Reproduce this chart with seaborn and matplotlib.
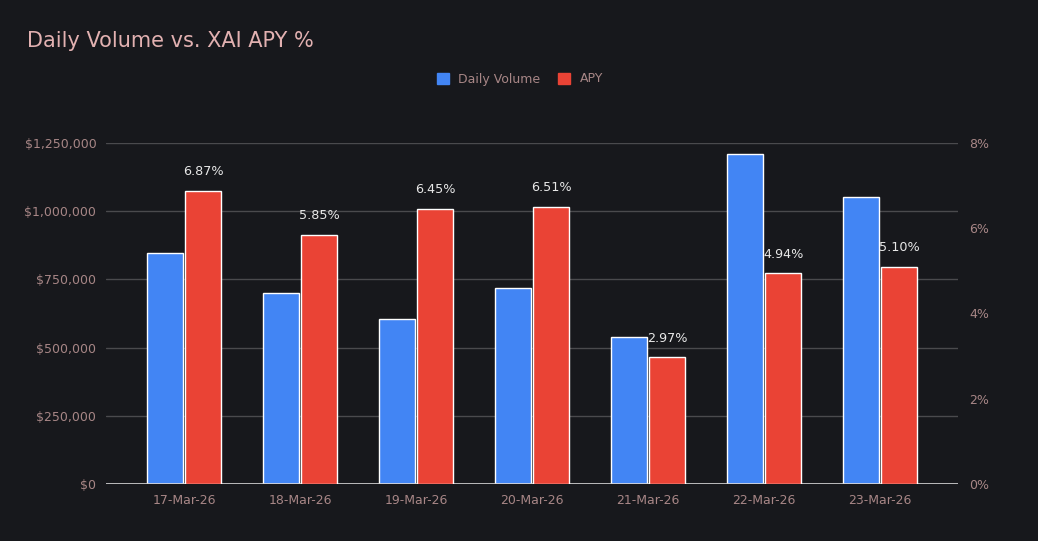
import matplotlib
matplotlib.use("Agg")
import matplotlib.pyplot as plt
import seaborn as sns
import pandas as pd
import numpy as np
from matplotlib.ticker import FuncFormatter
from matplotlib.patches import Patch

dates = ["17-Mar-26", "18-Mar-26", "19-Mar-26", "20-Mar-26", "21-Mar-26", "22-Mar-26", "23-Mar-26"]
daily_volume = [845000, 700000, 605000, 718000, 539000, 1210000, 1052000]
apy = [6.87, 5.85, 6.45, 6.51, 2.97, 4.94, 5.10]
series = ["Daily Volume", "APY"]

BG = "#17181c"
BLUE = "#4285f4"
RED = "#ea4335"
TICK = "#a78686"
GRID = "#4a4a4d"

sns.set_theme(style="dark")
plt.rcParams["font.family"] = ["DejaVu Sans"]

df_vol = pd.DataFrame({"date": dates * 2, "series": [series[0]] * 7 + [series[1]] * 7,
                       "value": daily_volume + [np.nan] * 7})
df_apy = pd.DataFrame({"date": dates * 2, "series": [series[0]] * 7 + [series[1]] * 7,
                       "value": [np.nan] * 7 + apy})

fig = plt.figure(figsize=(10.38, 5.41), dpi=100, facecolor=BG)
ax = fig.add_axes([106 / 1038, 57 / 541, 852 / 1038, 341 / 541])
ax.set_facecolor(BG)
ax2 = ax.twinx()

pal = {series[0]: BLUE, series[1]: RED}
for a, d in ((ax, df_vol), (ax2, df_apy)):
    sns.barplot(data=d, x="date", y="value", hue="series", hue_order=series, order=dates,
                palette=pal, saturation=1, dodge=True, width=0.66, gap=0.06, ax=a,
                edgecolor="white", linewidth=1, legend=False, errorbar=None)

ax.set_xlim(-0.672, 6.672)
ax.set_ylim(0, 1250000)
ax2.set_ylim(0, 8)
ax.set_yticks([0, 250000, 500000, 750000, 1000000, 1250000])
ax.yaxis.set_major_formatter(FuncFormatter(lambda v, p: "${:,.0f}".format(v)))
ax2.set_yticks([0, 2, 4, 6, 8])
ax2.yaxis.set_major_formatter(FuncFormatter(lambda v, p: "{:.0f}%".format(v)))

for a in (ax, ax2):
    a.set_xlabel("")
    a.set_ylabel("")
    for s in a.spines.values():
        s.set_visible(False)
    a.grid(False)
    a.set_facecolor("none")

ax.set_facecolor(BG)
ax.tick_params(axis="y", colors=TICK, labelsize=9, length=0, pad=7)
ax2.tick_params(axis="y", colors=TICK, labelsize=9, length=0, pad=8)
ax.tick_params(axis="x", colors=TICK, labelsize=9, length=0, pad=7)
for v in [250000, 500000, 750000, 1000000, 1250000]:
    ax.axhline(v, color=GRID, lw=1, zorder=0)
ax.axhline(0, color="#d8d8d8", lw=1.2, zorder=3)
ax.set_axisbelow(True)

for i, v in enumerate(apy):
    ax2.text(i + 0.165, v + 0.3, "{:.2f}%".format(v), ha="center", va="bottom",
             color="#e8e8e8", fontsize=9.2)

fig.text(27 / 1038, 1 - 41 / 541, "Daily Volume vs. XAI APY %", color="#e2b1b1",
         fontsize=15, ha="left", va="center")

handles = [Patch(facecolor=BLUE, edgecolor=BLUE), Patch(facecolor=RED, edgecolor=RED)]
leg = fig.legend(handles, series, loc="center", bbox_to_anchor=(520 / 1038, 1 - 79 / 541),
                 ncol=2, frameon=False, fontsize=9, handlelength=0.95, handleheight=0.95,
                 handletextpad=0.8, columnspacing=1.4)
for t in leg.get_texts():
    t.set_color(TICK)

fig.savefig("out.png", dpi=100, facecolor=BG)
